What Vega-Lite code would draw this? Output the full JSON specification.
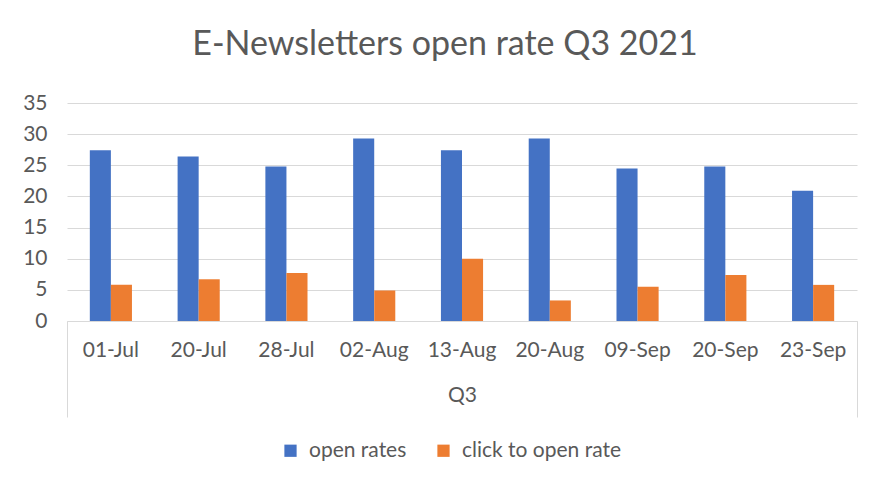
{
  "$schema": "https://vega.github.io/schema/vega-lite/v6.json",
  "autosize": "none",
  "width": 790,
  "height": 218,
  "padding": {"left": 67, "top": 103, "right": 28, "bottom": 167},
  "background": "white",
  "title": {
    "text": "E-Newsletters open rate Q3 2021",
    "fontSize": 34,
    "font": "Lato",
    "fontWeight": "normal",
    "color": "#595959",
    "anchor": "middle",
    "dx": -17,
    "offset": 30
  },
  "layer": [
    {
      "data": {
        "values": [
          {"date": "01-Jul", "series": "open rates", "value": 27.4},
          {"date": "01-Jul", "series": "click to open rate", "value": 5.8},
          {"date": "20-Jul", "series": "open rates", "value": 26.4},
          {"date": "20-Jul", "series": "click to open rate", "value": 6.7},
          {"date": "28-Jul", "series": "open rates", "value": 24.8},
          {"date": "28-Jul", "series": "click to open rate", "value": 7.7},
          {"date": "02-Aug", "series": "open rates", "value": 29.3},
          {"date": "02-Aug", "series": "click to open rate", "value": 4.9},
          {"date": "13-Aug", "series": "open rates", "value": 27.4},
          {"date": "13-Aug", "series": "click to open rate", "value": 10.0},
          {"date": "20-Aug", "series": "open rates", "value": 29.3},
          {"date": "20-Aug", "series": "click to open rate", "value": 3.3},
          {"date": "09-Sep", "series": "open rates", "value": 24.5},
          {"date": "09-Sep", "series": "click to open rate", "value": 5.5},
          {"date": "20-Sep", "series": "open rates", "value": 24.8},
          {"date": "20-Sep", "series": "click to open rate", "value": 7.4},
          {"date": "23-Sep", "series": "open rates", "value": 20.9},
          {"date": "23-Sep", "series": "click to open rate", "value": 5.8}
        ]
      },
      "mark": {"type": "bar"},
      "encoding": {
        "x": {
          "field": "date",
          "type": "nominal",
          "sort": null,
          "scale": {"paddingInner": 0.52, "paddingOuter": 0.26},
          "axis": {
            "title": "Q3",
            "labelAngle": 0,
            "labelFont": "Lato",
            "labelFontSize": 21,
            "labelColor": "#595959",
            "labelPadding": 18,
            "titleFont": "Lato",
            "titleFontSize": 21,
            "titleFontWeight": "normal",
            "titleColor": "#595959",
            "titlePadding": 24,
            "domainColor": "#d9d9d9",
            "domainWidth": 1,
            "ticks": false,
            "tickSize": 0
          }
        },
        "xOffset": {"field": "series", "type": "nominal", "sort": ["open rates", "click to open rate"], "scale": {"paddingInner": 0}},
        "y": {
          "field": "value",
          "type": "quantitative",
          "scale": {"domain": [0, 35]},
          "axis": {
            "title": null,
            "values": [0, 5, 10, 15, 20, 25, 30, 35],
            "labelFont": "Lato",
            "labelFontSize": 21,
            "labelColor": "#595959",
            "labelPadding": 20,
            "ticks": false,
            "domain": false,
            "gridColor": "#d9d9d9",
            "gridWidth": 1
          }
        },
        "color": {
          "field": "series",
          "type": "nominal",
          "sort": ["open rates", "click to open rate"],
          "scale": {"range": ["#4472C4", "#ED7D31"]},
          "legend": {
            "title": null,
            "orient": "none",
            "direction": "horizontal",
            "legendX": 213,
            "legendY": 337,
            "symbolType": "square",
            "symbolSize": 150,
            "symbolStrokeWidth": 0,
            "labelFont": "Lato",
            "labelFontSize": 21,
            "labelColor": "#595959",
            "labelLimit": 400,
            "columnPadding": 26,
            "labelOffset": 8
          }
        }
      }
    },
    {
      "data": {"values": [{"edge": "start"}, {"edge": "end"}]},
      "mark": {"type": "rule", "opacity": 0},
      "encoding": {
        "x": {
          "field": "edge",
          "type": "nominal",
          "sort": null,
          "scale": {"type": "point", "padding": 0},
          "axis": {
            "orient": "top",
            "offset": -218,
            "title": null,
            "labels": false,
            "domain": false,
            "grid": false,
            "ticks": true,
            "tickSize": -96,
            "tickColor": "#d9d9d9",
            "tickWidth": 1
          }
        }
      }
    }
  ],
  "resolve": {"scale": {"x": "independent"}, "axis": {"x": "independent"}},
  "config": {"view": {"stroke": null}}
}
